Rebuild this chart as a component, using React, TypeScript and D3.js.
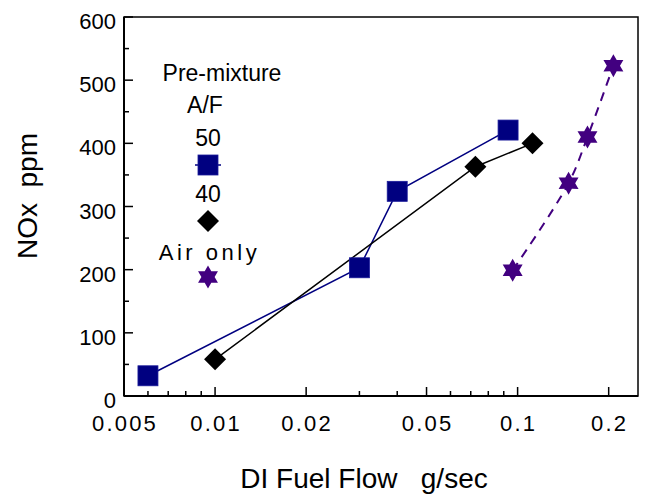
import React from "react";
import * as d3 from "d3";

// ---- data ----
const af50X = [0.006, 0.030, 0.040, 0.093];
const af50Y = [32, 203, 324, 421];
const af40X = [0.010, 0.0725, 0.112];
const af40Y = [58, 363, 400];
const airX = [0.0963, 0.1474, 0.1702, 0.2073];
const airY = [199, 337, 410, 523];

const xMajorTicks = [0.005, 0.01, 0.02, 0.05, 0.1, 0.2];
const xTickLabels = ["0.005", "0.01", "0.02", "0.05", "0.1", "0.2"];
const xMinorTicks = [0.006, 0.007, 0.008, 0.009, 0.03, 0.04, 0.06, 0.07, 0.08, 0.09];
const yMajorTicks = [0, 100, 200, 300, 400, 500, 600];
const yMinorTicks = [50, 150, 250, 350, 450, 550];

const W = 645, H = 495;
const L = 124, R = 638, T = 17, B = 396;

const NAVY = "#000080";
const PURPLE = "#420080";

function starPath(cx: number, cy: number, ro: number, ri: number) {
  const pts: [number, number][] = [];
  for (let i = 0; i < 12; i++) {
    const a = (-90 + i * 30) * Math.PI / 180;
    const r = i % 2 === 0 ? ro : ri;
    pts.push([cx + r * Math.cos(a), cy + r * Math.sin(a)]);
  }
  return "M" + pts.map(p => p.join(",")).join("L") + "Z";
}
function diamondPath(cx: number, cy: number, r: number) {
  return `M${cx},${cy - r}L${cx + r},${cy}L${cx},${cy + r}L${cx - r},${cy}Z`;
}

export default function App() {
  const x = d3.scaleLog().domain([0.005, 0.25]).range([L, R]);
  const y = d3.scaleLinear().domain([0, 600]).range([B, T]);

  const straight = d3.line<[number, number]>().x(d => x(d[0])).y(d => y(d[1]));
  const curved = d3.line<[number, number]>().x(d => x(d[0])).y(d => y(d[1])).curve(d3.curveCatmullRom.alpha(0.5));

  const af50 = af50X.map((v, i) => [v, af50Y[i]] as [number, number]);
  const af40 = af40X.map((v, i) => [v, af40Y[i]] as [number, number]);
  const air = airX.map((v, i) => [v, airY[i]] as [number, number]);

  const sans = "'Liberation Sans', Arial, sans-serif";

  return (
    <svg width={W} height={H} style={{ position: "absolute", left: 0, top: 0, background: "#fff" }}>
      <rect x={0} y={0} width={W} height={H} fill="#fff" />
      {/* frame */}
      <rect x={L} y={T} width={R - L} height={B - T} fill="none" stroke="#000" strokeWidth={1.5} />
      <line x1={L} y1={T} x2={L} y2={B} stroke="#000" strokeWidth={2} />
      <line x1={L} y1={B} x2={R} y2={B} stroke="#000" strokeWidth={2} />

      {/* y ticks */}
      {yMajorTicks.map(v => (
        <g key={"ym" + v}>
          <line x1={L} x2={L + 9} y1={y(v)} y2={y(v)} stroke="#000" strokeWidth={1.5} />
          <text x={116} y={y(v) + 12} textAnchor="end" fontFamily={sans} fontSize={22} fill="#000">{v}</text>
        </g>
      ))}
      {yMinorTicks.map(v => (
        <line key={"yn" + v} x1={L} x2={L + 5} y1={y(v)} y2={y(v)} stroke="#000" strokeWidth={1.5} />
      ))}

      {/* x ticks */}
      {xMajorTicks.map((v, i) => (
        <g key={"xm" + v}>
          <line x1={x(v)} x2={x(v)} y1={B} y2={B - 9} stroke="#000" strokeWidth={1.5} />
          <text x={x(v) + 1} y={431} textAnchor="middle" fontFamily={sans} fontSize={22} letterSpacing={2.2} fill="#000">{xTickLabels[i]}</text>
        </g>
      ))}
      {xMinorTicks.map(v => (
        <line key={"xn" + v} x1={x(v)} x2={x(v)} y1={B} y2={B - 5} stroke="#000" strokeWidth={1.5} />
      ))}

      {/* axis titles */}
      <text transform="translate(37,196) rotate(-90)" textAnchor="middle" fontFamily={sans} fontSize={28} fill="#000" style={{ whiteSpace: "pre" }}>{"NOx  ppm"}</text>
      <text x={364} y={488} textAnchor="middle" fontFamily={sans} fontSize={28} fill="#000" style={{ whiteSpace: "pre" }}>{"DI Fuel Flow   g/sec"}</text>

      {/* series lines */}
      <path d={straight(af50) || ""} fill="none" stroke={NAVY} strokeWidth={1.5} />
      <path d={straight(af40) || ""} fill="none" stroke="#000" strokeWidth={1.5} />
      <path d={curved(air) || ""} fill="none" stroke={PURPLE} strokeWidth={2} strokeDasharray="9,7" />

      {/* markers */}
      {af50.map((d, i) => (
        <rect key={"s" + i} x={x(d[0]) - 10} y={y(d[1]) - 10} width={20} height={20} fill={NAVY} stroke="#1a1a9a" strokeWidth={0.8} />
      ))}
      {af40.map((d, i) => (
        <path key={"d" + i} d={diamondPath(x(d[0]), y(d[1]), 11)} fill="#000" />
      ))}
      {air.map((d, i) => (
        <path key={"a" + i} d={starPath(x(d[0]), y(d[1]), 11.5, 6.6)} fill={PURPLE} />
      ))}

      {/* legend */}
      <text x={222} y={81} textAnchor="middle" fontFamily={sans} fontSize={23} fill="#000">Pre-mixture</text>
      <text x={205} y={113} textAnchor="middle" fontFamily={sans} fontSize={23} fill="#000">A/F</text>
      <text x={208} y={146} textAnchor="middle" fontFamily={sans} fontSize={23} fill="#000">50</text>
      <line x1={195} x2={221} y1={165} y2={165} stroke={NAVY} strokeWidth={1.5} />
      <rect x={198} y={155} width={20} height={20} fill={NAVY} stroke="#1a1a9a" strokeWidth={0.8} />
      <text x={208} y={202} textAnchor="middle" fontFamily={sans} fontSize={23} fill="#000">40</text>
      <path d={diamondPath(208, 221, 11)} fill="#000" />
      <text x={209.5} y={260} textAnchor="middle" fontFamily={sans} fontSize={22} letterSpacing={3.5} fill="#000" style={{ whiteSpace: "pre" }}>Air only</text>
      <path d={starPath(208, 277, 11.5, 6.6)} fill={PURPLE} />
    </svg>
  );
}
